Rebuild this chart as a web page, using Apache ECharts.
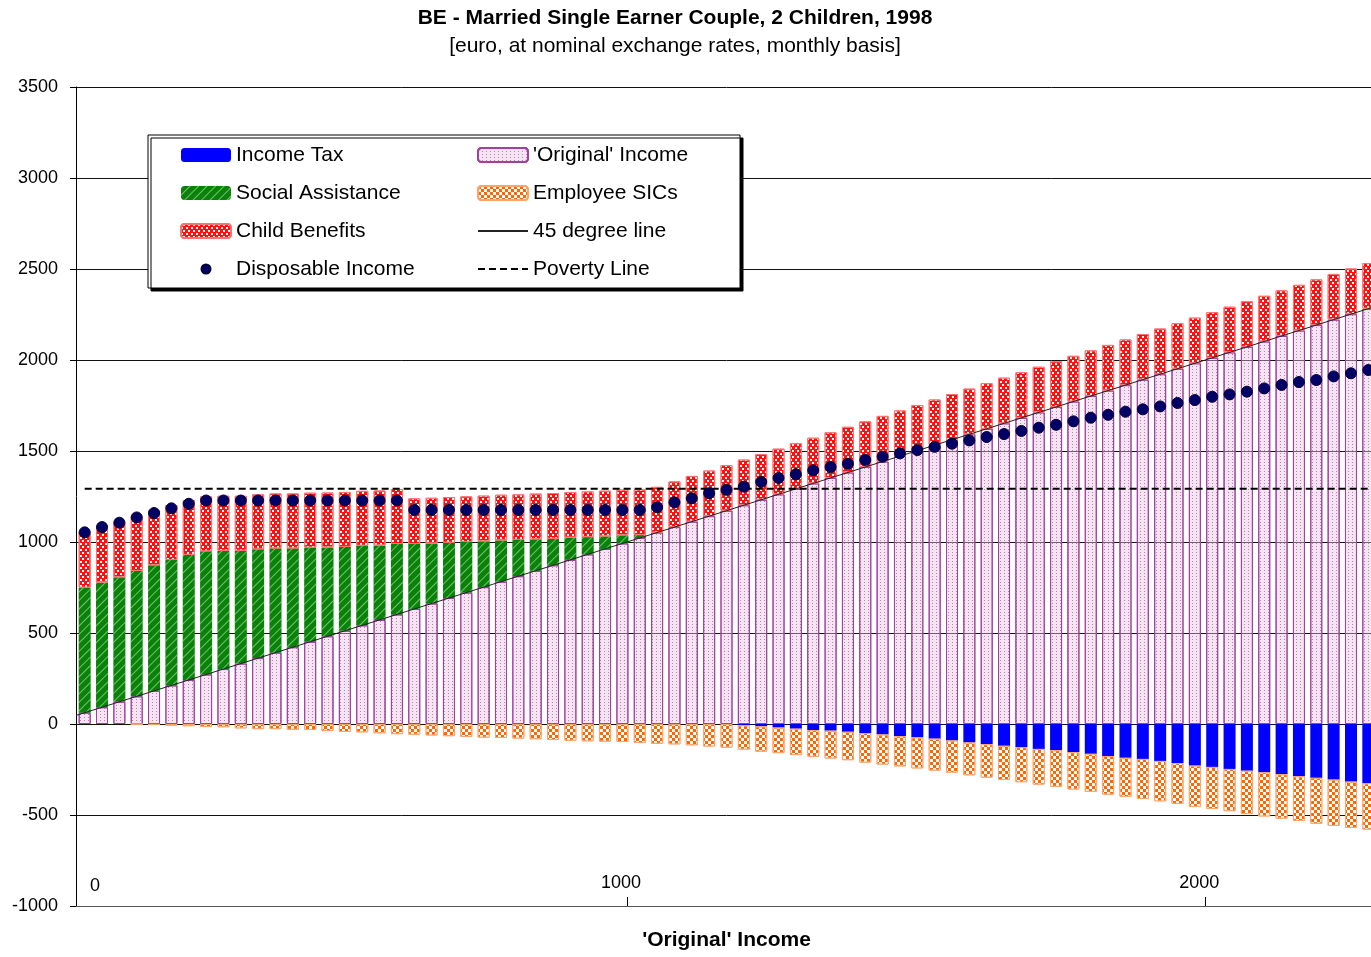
<!DOCTYPE html>
<html>
<head>
<meta charset="utf-8">
<script src="https://cdn.jsdelivr.net/npm/echarts@6.0.0/dist/echarts.min.js"></script>
<style>
  html, body { margin: 0; padding: 0; background: #fff; overflow: hidden; width: 1371px; height: 957px; }
  #chart { width: 1380px; height: 957px; }
</style>
</head>
<body>
<div id="chart"></div>
<script>
// ---- DATA ----
const incomes = [62, 92, 122, 152, 182, 212, 242, 272, 302, 332, 362, 392, 422, 452, 482, 512, 542, 572, 602, 632,
  662, 692, 722, 752, 782, 812, 842, 872, 902, 932, 962, 992, 1022, 1052, 1082, 1112, 1142, 1172, 1202, 1232,
  1262, 1292, 1322, 1352, 1382, 1412, 1442, 1472, 1502, 1532, 1562, 1592, 1622, 1652, 1682, 1712, 1742, 1772, 1802, 1832,
  1862, 1892, 1922, 1952, 1982, 2012, 2042, 2072, 2102, 2132, 2162, 2192, 2222, 2252, 2282];

const socialAssistance = [687, 686, 684, 689, 690, 689, 687, 677, 650, 620, 598, 573, 543, 517, 488, 461, 437, 409, 387, 357,
  330, 304, 278, 252, 227, 199, 173, 146, 122, 95, 69, 45, 16, 0, 0, 0, 0, 0, 0, 0,
  0, 0, 0, 0, 0, 0, 0, 0, 0, 0, 0, 0, 0, 0, 0, 0, 0, 0, 0, 0,
  0, 0, 0, 0, 0, 0, 0, 0, 0, 0, 0, 0, 0, 0, 0];

const childBenefits = [302, 302, 302, 302, 302, 302, 302, 302, 302, 302, 302, 302, 302, 302, 302, 302, 302, 302, 302, 251,
  251, 251, 251, 251, 251, 251, 251, 251, 251, 251, 251, 251, 251, 251, 251, 251, 251, 251, 251, 251,
  251, 251, 251, 251, 251, 251, 251, 251, 251, 251, 251, 251, 251, 251, 251, 251, 251, 251, 251, 251,
  251, 251, 251, 251, 251, 251, 251, 251, 251, 251, 251, 251, 251, 251, 251];

const incomeTax = [0, 0, 0, 0, 0, 0, 0, 0, 0, 0, 0, 0, 0, 0, 0, 0, 0, 0, 0, 0,
  0, 0, 0, 0, 0, 0, 0, 0, 0, 0, 0, 0, 0, 0, 0, 0, 0, 0, -7, -13,
  -20, -26, -33, -37, -43, -50, -58, -67, -74, -81, -91, -102, -111, -120, -127, -137, -144, -155, -164, -176,
  -186, -192, -203, -215, -229, -236, -247, -257, -266, -276, -288, -296, -306, -317, -326];

const employeeSICs = [0, 0, 0, -2, -5, -10, -12, -16, -18, -24, -28, -28, -32, -33, -39, -44, -46, -51, -56, -59,
  -63, -67, -71, -75, -77, -80, -84, -88, -92, -95, -97, -99, -104, -109, -112, -117, -124, -130, -134, -139,
  -140, -145, -147, -153, -156, -162, -165, -166, -170, -175, -176, -180, -184, -188, -193, -196, -201, -205, -209, -212,
  -214, -220, -222, -224, -226, -231, -232, -238, -242, -244, -244, -252, -254, -254, -254];

const disposableIncome = [1053, 1082, 1106, 1135, 1159, 1185, 1210, 1228, 1228, 1228, 1228, 1228, 1228, 1228, 1228, 1228, 1228, 1228, 1228, 1176,
  1176, 1176, 1176, 1176, 1176, 1176, 1176, 1176, 1176, 1176, 1176, 1176, 1176, 1191, 1218, 1240, 1268, 1287, 1304, 1330,
  1352, 1372, 1394, 1412, 1430, 1451, 1469, 1487, 1505, 1523, 1540, 1558, 1577, 1593, 1610, 1628, 1644, 1663, 1683, 1699,
  1716, 1729, 1745, 1764, 1780, 1798, 1811, 1826, 1844, 1863, 1879, 1890, 1910, 1927, 1945];

const povertyLine = 1292;
const xRange = [47, 2297];          // original-income range covered by the plot
const xTickValues = [1000, 2000];
const yTickLabels = [-1000, -500, 0, 500, 1000, 1500, 2000, 2500, 3000, 3500];

// ---- CHART ----
const FONT = '"Liberation Sans", Arial, sans-serif';
const chart = echarts.init(document.getElementById('chart'), null, { renderer: 'canvas' });

const legendText = { fontFamily: FONT, fontSize: 21, lineHeight: 24, color: '#000' };
const smallDot = 'path://M0,0M14,14M7,2.5A4.5,4.5,0,1,1,7,11.5A4.5,4.5,0,1,1,7,2.5Z';

const option = {
  animation: false,
  backgroundColor: '#ffffff',
  textStyle: { fontFamily: FONT, color: '#000' },
  title: [
    { text: 'BE - Married Single Earner Couple, 2 Children, 1998', left: 675, top: 8, textAlign: 'center', padding: 0,
      textStyle: { fontFamily: FONT, fontSize: 21, fontWeight: 'bold', color: '#000' } },
    { text: '[euro, at nominal exchange rates, monthly basis]', left: 675, top: 36, textAlign: 'center', padding: 0,
      textStyle: { fontFamily: FONT, fontSize: 21, fontWeight: 'normal', color: '#000' } }
  ],
  grid: { left: 76, top: 87, width: 1301, height: 819, containLabel: false },
  legend: [
    { orient: 'vertical', left: 180, top: 143, padding: 0, itemWidth: 50, itemHeight: 14, itemGap: 14, selectedMode: false,
      textStyle: legendText,
      data: ['Income Tax', 'Social Assistance', 'Child Benefits', { name: 'Disposable Income', icon: smallDot }] },
    { orient: 'vertical', left: 477, top: 143, padding: 0, itemWidth: 50, itemHeight: 14, itemGap: 14, selectedMode: false,
      textStyle: legendText,
      data: ["'Original' Income", 'Employee SICs',
        { name: '45 degree line', itemStyle: { opacity: 0 } },
        { name: 'Poverty Line', itemStyle: { opacity: 0 } }] }
  ],
  graphic: [
    { type: 'rect', z: 3, shape: { x: 148, y: 135, width: 592, height: 153 },
      style: { fill: '#ffffff', stroke: '#000', lineWidth: 1, shadowColor: '#000', shadowOffsetX: 3, shadowOffsetY: 3, shadowBlur: 0 } },
    { type: 'text', z: 3, x: 95, y: 886,
      style: { text: '0', fontFamily: FONT, fontSize: 18, fill: '#000', align: 'center', verticalAlign: 'middle' } }
  ],
  xAxis: [
    { type: 'category', data: incomes.map(String), show: false, boundaryGap: true, gridIndex: 0 },
    { type: 'value', gridIndex: 0, min: xRange[0], max: xRange[1], position: 'bottom',
      axisLine: { show: true, onZero: false, lineStyle: { color: '#555', width: 1 } },
      axisTick: { show: true, inside: true, length: 9, customValues: xTickValues, lineStyle: { color: '#000' } },
      axisLabel: { inside: true, margin: 14, customValues: xTickValues, fontFamily: FONT, fontSize: 18, color: '#000',
        padding: [0, 12, 0, 0], formatter: v => String(v) },
      splitLine: { show: false },
      name: "'Original' Income", nameLocation: 'middle', nameGap: 24,
      nameTextStyle: { fontFamily: FONT, fontSize: 21, fontWeight: 'bold', color: '#000' } }
  ],
  yAxis: [
    { type: 'value', min: yTickLabels[0], max: yTickLabels[yTickLabels.length - 1], interval: 500,
      axisLine: { show: true, lineStyle: { color: '#000', width: 1 } },
      axisTick: { show: true, length: 6, lineStyle: { color: '#000' } },
      axisLabel: { fontFamily: FONT, fontSize: 18, color: '#000', margin: 18, formatter: v => String(v) },
      splitLine: { show: true, lineStyle: { color: '#111', width: 1 } } }
  ],
  series: [
    { name: "'Original' Income", type: 'bar', stack: 'total', xAxisIndex: 0, yAxisIndex: 0, data: incomes, barWidth: 12,
      itemStyle: { color: 'rgba(232,196,226,0.45)', borderColor: '#a040a0', borderWidth: 1,
        decal: { symbol: 'rect', symbolSize: 1, color: 'rgba(150,40,130,0.55)', dashArrayX: [1, 3], dashArrayY: [1, 2] } } },
    { name: 'Social Assistance', type: 'bar', stack: 'total', xAxisIndex: 0, yAxisIndex: 0, data: socialAssistance, barWidth: 12,
      itemStyle: { color: '#0a820a',
        decal: { symbol: 'rect', symbolSize: 1, color: 'rgba(180,235,180,0.6)', dashArrayX: [1, 0], dashArrayY: [1, 5], rotation: -Math.PI / 4 } } },
    { name: 'Child Benefits', type: 'bar', stack: 'total', xAxisIndex: 0, yAxisIndex: 0, data: childBenefits, barWidth: 12,
      itemStyle: { color: '#ff1010', borderColor: '#ff7070', borderWidth: 1,
        decal: { symbol: 'rect', symbolSize: 1, color: '#ffffff', dashArrayX: [[2, 3], [0, 2, 2, 1]], dashArrayY: [2, 1] } } },
    { name: 'Income Tax', type: 'bar', stack: 'total', xAxisIndex: 0, yAxisIndex: 0, data: incomeTax, barWidth: 12,
      itemStyle: { color: '#0000ff' } },
    { name: 'Employee SICs', type: 'bar', stack: 'total', xAxisIndex: 0, yAxisIndex: 0, data: employeeSICs, barWidth: 12,
      itemStyle: { color: '#ff6600', borderColor: '#ffa366', borderWidth: 1,
        decal: { symbol: 'rect', symbolSize: 1, color: '#ffffff', dashArrayX: [[3, 3], [0, 3, 3, 0]], dashArrayY: [3, 0] } } },
    { name: '45 degree line', type: 'line', xAxisIndex: 1, yAxisIndex: 0, z: 3, symbol: 'none', clip: true,
      data: [[xRange[0], xRange[0]], [xRange[1], xRange[1]]],
      lineStyle: { color: '#222', width: 1 }, itemStyle: { color: '#222' } },
    { name: 'Poverty Line', type: 'line', xAxisIndex: 1, yAxisIndex: 0, z: 3, symbol: 'none', clip: true,
      data: [[incomes[0], povertyLine], [xRange[1], povertyLine]],
      lineStyle: { color: '#000', width: 2, type: [7, 4] }, itemStyle: { color: '#000' } },
    { name: 'Disposable Income', type: 'scatter', xAxisIndex: 0, yAxisIndex: 0, z: 4, data: disposableIncome,
      symbol: 'circle', symbolSize: 11,
      itemStyle: { color: '#000066', borderColor: '#000033', borderWidth: 1, opacity: 1 } }
  ]
};
chart.setOption(option);
</script>
</body>
</html>
